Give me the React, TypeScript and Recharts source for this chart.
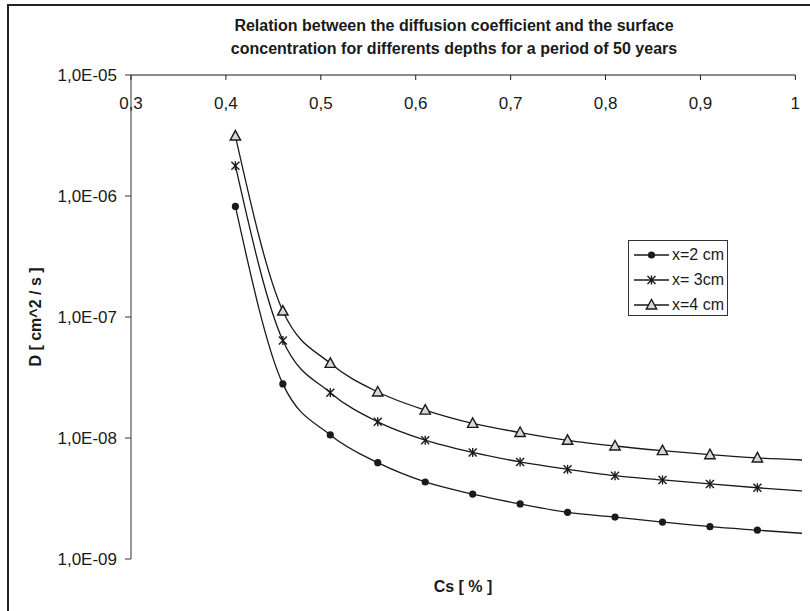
import React from 'react';
import { LineChart, Line, XAxis, YAxis, ReferenceLine, Label } from 'recharts';

// Cs [%] values of the points; the last one is where the curves run out on the right
const csValues = [0.41, 0.46, 0.51, 0.56, 0.61, 0.66, 0.71, 0.76, 0.81, 0.86, 0.91, 0.96, 1.007];
const depth2cm = [8.2e-7, 2.8e-8, 1.06e-8, 6.25e-9, 4.33e-9, 3.44e-9, 2.85e-9, 2.43e-9, 2.22e-9, 2.02e-9, 1.85e-9, 1.73e-9, 1.63e-9];
const depth3cm = [1.78e-6, 6.4e-8, 2.37e-8, 1.36e-8, 9.6e-9, 7.6e-9, 6.34e-9, 5.51e-9, 4.88e-9, 4.5e-9, 4.17e-9, 3.88e-9, 3.65e-9];
const depth4cm = [3.13e-6, 1.12e-7, 4.14e-8, 2.4e-8, 1.7e-8, 1.32e-8, 1.11e-8, 9.57e-9, 8.59e-9, 7.86e-9, 7.28e-9, 6.84e-9, 6.58e-9];

const xTicks = [0.3, 0.4, 0.5, 0.6, 0.7, 0.8, 0.9, 1];
const yTicks = [1e-5, 1e-6, 1e-7, 1e-8, 1e-9];

const seriesNames = ['x=2 cm', 'x= 3cm', 'x=4 cm'];
const markerKinds = ['dot', 'star', 'triangle'];

const data = csValues.map((cs, i) => ({ cs, d2: depth2cm[i], d3: depth3cm[i], d4: depth4cm[i] }));

const FONT = '"Liberation Sans", Arial, sans-serif';
const INK = '#1a1a1a';

const Marker = ({ kind, cx, cy }: { kind: string; cx: number; cy: number }) => {
  if (kind === 'dot') return <circle cx={cx} cy={cy} r={3.6} fill={INK} />;
  if (kind === 'star') {
    const s = 4;
    return (
      <g stroke={INK} strokeWidth={1.4}>
        <line x1={cx - s} y1={cy - s} x2={cx + s} y2={cy + s} />
        <line x1={cx - s} y1={cy + s} x2={cx + s} y2={cy - s} />
        <line x1={cx} y1={cy - s - 0.5} x2={cx} y2={cy + s + 0.5} />
      </g>
    );
  }
  return (
    <polygon
      points={`${cx},${cy - 5.5} ${cx + 5.2},${cy + 4} ${cx - 5.2},${cy + 4}`}
      fill="#d9d9d9"
      stroke={INK}
      strokeWidth={1.4}
    />
  );
};

const makeDot = (kind: string) => (props: any) => {
  const { cx, cy, payload, index } = props;
  if (payload.cs > 1 || cx == null || cy == null) return <g key={`${kind}-${index}`} />;
  return (
    <g key={`${kind}-${index}`}>
      <Marker kind={kind} cx={cx} cy={cy} />
    </g>
  );
};

const XTick = (props: any) => {
  const { x, y, payload } = props;
  return (
    <text x={x} y={y + 27} textAnchor="middle" fontSize={17} fontFamily={FONT} fill={INK}>
      {String(payload.value).replace('.', ',')}
    </text>
  );
};

const formatD = (v: number) => {
  const e = Math.round(Math.log10(v));
  return `1,0E-${String(-e).padStart(2, '0')}`;
};

const LegendBox = () => (
  <div
    style={{
      position: 'absolute',
      left: 628,
      top: 240,
      width: 100,
      height: 76,
      boxSizing: 'border-box',
      border: '1px solid #333',
      background: '#fff',
      paddingTop: 1,
      fontFamily: FONT,
      fontSize: 16,
      color: INK,
    }}
  >
    {seriesNames.map((name, i) => (
      <div key={name} style={{ height: 25, display: 'flex', alignItems: 'center' }}>
        <svg width={42} height={16} style={{ flex: 'none' }}>
          <line x1={5} y1={8} x2={40} y2={8} stroke={INK} strokeWidth={1.3} />
          <Marker kind={markerKinds[i]} cx={22.5} cy={8} />
        </svg>
        <span style={{ marginLeft: 1, whiteSpace: 'nowrap' }}>{name}</span>
      </div>
    ))}
  </div>
);

export default function App() {
  return (
    <div style={{ position: 'fixed', left: 0, top: 0, width: 810, height: 611, overflow: 'hidden', background: '#fff' }}>
      {/* chart frame, cut off on the right and bottom like the original */}
      <div style={{ position: 'absolute', left: 7, top: 4, width: 900, height: 700, borderLeft: '2px solid #222', borderTop: '2px solid #222' }} />
      <div
        style={{
          position: 'absolute',
          left: 0,
          top: 14,
          width: 908,
          textAlign: 'center',
          fontFamily: FONT,
          fontWeight: 'bold',
          fontSize: 16,
          lineHeight: '23px',
          color: INK,
        }}
      >
        Relation between the diffusion coefficient and the surface
        <br />
        concentration for differents depths for a period of 50 years
      </div>
      <div
        style={{
          position: 'absolute',
          left: 363,
          width: 200,
          top: 578,
          textAlign: 'center',
          fontFamily: FONT,
          fontWeight: 'bold',
          fontSize: 16,
          color: INK,
        }}
      >
        Cs [ % ]
      </div>
      <div style={{ position: 'absolute', left: 0, top: 0 }}>
        <LineChart width={810} height={611} data={data} margin={{ top: 75, right: 8, bottom: 52, left: 0 }}>
          <XAxis
            type="number"
            dataKey="cs"
            orientation="top"
            mirror
            domain={[0.3, 1.007]}
            ticks={xTicks}
            interval={0}
            axisLine={false}
            tickLine={{ stroke: INK }}
            tickSize={5}
            tick={<XTick />}
          />
          <YAxis
            scale="log"
            domain={[1e-9, 1e-5]}
            ticks={yTicks}
            allowDataOverflow
            width={131}
            interval={0}
            tickFormatter={formatD}
            tickSize={6}
            tickMargin={8}
            axisLine={{ stroke: '#333' }}
            tickLine={{ stroke: '#333' }}
            tick={{ fontSize: 17, fill: INK, fontFamily: FONT }}
          >
            <Label
              value="D [ cm^2 / s ]"
              angle={-90}
              position="insideLeft"
              offset={35}
              style={{ textAnchor: 'middle', fontSize: 16, fontWeight: 'bold', fontFamily: FONT, fill: INK }}
            />
          </YAxis>
          <ReferenceLine
            segment={[{ x: 0.3, y: 1e-5 }, { x: 1, y: 1e-5 }]}
            stroke={INK}
            strokeWidth={1}
            ifOverflow="visible"
          />
          <Line type="monotone" dataKey="d2" name={seriesNames[0]} stroke={INK} strokeWidth={1.3} dot={makeDot('dot')} activeDot={false} isAnimationActive={false} />
          <Line type="monotone" dataKey="d3" name={seriesNames[1]} stroke={INK} strokeWidth={1.3} dot={makeDot('star')} activeDot={false} isAnimationActive={false} />
          <Line type="monotone" dataKey="d4" name={seriesNames[2]} stroke={INK} strokeWidth={1.3} dot={makeDot('triangle')} activeDot={false} isAnimationActive={false} />
        </LineChart>
      </div>
      <LegendBox />
    </div>
  );
}
